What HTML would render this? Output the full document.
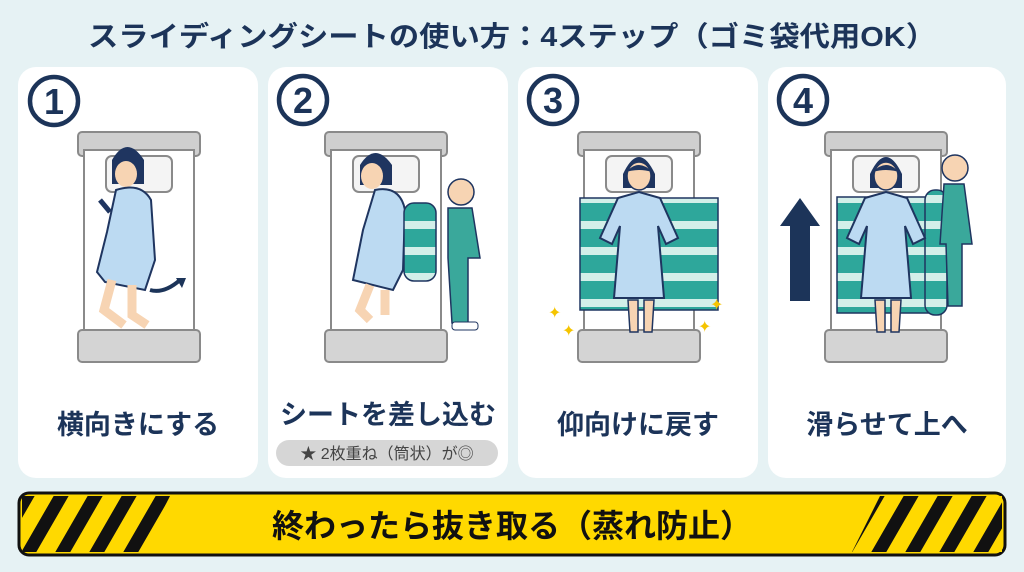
<!DOCTYPE html>
<html><head><meta charset="utf-8"><style>
html,body{margin:0;padding:0;background:#e6f2f4;}
svg{display:block;font-family:"Liberation Sans","Noto Sans CJK JP",sans-serif;}
</style></head><body>
<svg width="1024" height="572" viewBox="0 0 1024 572" xmlns="http://www.w3.org/2000/svg">
<defs>
<pattern id="st" width="40" height="26" patternUnits="userSpaceOnUse">
<rect width="40" height="26" fill="#2ea79b"/><rect y="13" width="40" height="8" fill="#d3efe9"/>
</pattern>
<pattern id="hz" width="34" height="80" patternUnits="userSpaceOnUse" patternTransform="skewX(-30)">
<rect width="34" height="80" fill="#ffd900"/><rect width="15" height="80" fill="#111"/>
</pattern>
<g id="bed">
<rect x="0" y="132" width="122" height="24" rx="4" fill="#cfcfcf" stroke="#8a8a8a" stroke-width="2"/>
<rect x="6" y="150" width="110" height="185" fill="#fff" stroke="#8a8a8a" stroke-width="2"/>
<rect x="28" y="156" width="66" height="36" rx="6" fill="#f4f4f4" stroke="#8a8a8a" stroke-width="2"/>
<rect x="0" y="330" width="122" height="32" rx="4" fill="#d4d4d4" stroke="#8a8a8a" stroke-width="2"/>
</g>
<g id="sup">
<path d="M45 174 q16-34 32 0 v14 h-32z" fill="#1f3560"/>
<ellipse cx="61" cy="176" rx="12" ry="14" fill="#f7d4b3" stroke="#1f3560" stroke-width="1.5"/>
<path d="M48 172 q13-14 26 0 q-13-4-26 0z" fill="#1f3560"/>
<path d="M40 198 l21-6 21 6 l18 40 -12 6 -8-18 6 72 h-50 l6-72 -8 18 -12-6z" fill="#bcdaf2" stroke="#1f3560" stroke-width="2"/>
<path d="M50 300 l2 32 h8 l0-32z M66 300 l0 32 h8 l2-32z" fill="#f7d4b3" stroke="#1f3560" stroke-width="1.5"/>
</g>
</defs>

<text x="512" y="46" text-anchor="middle" font-size="28" font-weight="bold" fill="#1c3459" textLength="848" lengthAdjust="spacingAndGlyphs">スライディングシートの使い方：4ステップ（ゴミ袋代用OK）</text>

<rect x="18" y="67" width="240" height="411" rx="18" fill="#fff"/>
<rect x="268" y="67" width="240" height="411" rx="18" fill="#fff"/>
<rect x="518" y="67" width="240" height="411" rx="18" fill="#fff"/>
<rect x="768" y="67" width="238" height="411" rx="18" fill="#fff"/>

<g fill="none" stroke="#1c3459" stroke-width="4.5">
<circle cx="54" cy="101" r="24"/><circle cx="303" cy="100" r="24"/><circle cx="553" cy="100" r="24"/><circle cx="803" cy="100" r="24"/>
</g>
<g font-size="36" font-weight="bold" fill="#1c3459" text-anchor="middle">
<text x="54" y="114">1</text><text x="303" y="113">2</text><text x="553" y="113">3</text><text x="803" y="113">4</text>
</g>

<!-- card1 -->
<use href="#bed" x="78"/>
<path d="M112 160 q15-26 32 0 v24 h-32z" fill="#1f3560"/>
<ellipse cx="126" cy="174" rx="11" ry="13" fill="#f7d4b3"/>
<path d="M116 190 q25-8 35 10 l4 60 -10 30 -40-8 -8-10 10-40z" fill="#bcdaf2" stroke="#1f3560" stroke-width="2"/>
<path d="M100 200 l10 12" stroke="#1f3560" stroke-width="5"/>
<path d="M112 280 l-8 30 20 15 M132 285 l0 30 15 10" stroke="#f7d4b3" stroke-width="9" fill="none"/>
<path d="M150 290 q14 4 30-10" stroke="#1c3459" stroke-width="4" fill="none"/>
<path d="M176 278 l10 0 -4 10z" fill="#1c3459"/>

<!-- card2 -->
<use href="#bed" x="325"/>
<path d="M360 165 q15-24 32 0 v20 h-32z" fill="#1f3560"/>
<ellipse cx="372" cy="176" rx="11" ry="13" fill="#f7d4b3"/>
<path d="M375 190 q25-5 30 20 l-2 60 -10 20 -40-10 10-50z" fill="#bcdaf2" stroke="#1f3560" stroke-width="2"/>
<path d="M370 285 l-10 25 10 10 M385 290 l0 25" stroke="#f7d4b3" stroke-width="9" fill="none"/>
<rect x="404" y="203" width="32" height="78" rx="10" fill="url(#st)" stroke="#1f3560" stroke-width="1.5"/>
<circle cx="461" cy="192" r="13" fill="#f7d4b3" stroke="#1f3560" stroke-width="1.5"/>
<path d="M448 208 h24 l8 50 h-12 l0 65 h-16 l-4-65z" fill="#3aa89b" stroke="#1f3560" stroke-width="1.5"/>
<rect x="452" y="322" width="26" height="8" rx="3" fill="#fff" stroke="#1f3560"/>

<!-- card3 -->
<use href="#bed" x="578"/>
<rect x="580" y="198" width="138" height="112" fill="url(#st)" stroke="#1f3560" stroke-width="1.5"/>
<use href="#sup" x="578"/>
<g fill="#f5c400" font-size="16"><text x="548" y="318">✦</text><text x="562" y="336">✦</text><text x="710" y="310">✦</text><text x="698" y="332">✦</text></g>

<!-- card4 -->
<use href="#bed" x="825"/>
<rect x="837" y="197" width="100" height="116" fill="url(#st)" stroke="#1f3560" stroke-width="1.5"/>
<rect x="925" y="190" width="22" height="125" rx="10" fill="url(#st)" stroke="#1f3560" stroke-width="1.5"/>
<use href="#sup" x="825"/>
<circle cx="955" cy="168" r="13" fill="#f7d4b3" stroke="#1f3560" stroke-width="1.5"/>
<path d="M944 184 h20 l8 60 h-10 l0 62 h-14 l-2-62 -6 0z" fill="#3aa89b" stroke="#1f3560" stroke-width="1.5"/>
<path d="M800 198 l20 28 h-10 v75 h-20 v-75 h-10z" fill="#1c3459"/>

<!-- labels -->
<g font-size="27" font-weight="bold" fill="#1c3459" text-anchor="middle">
<text x="138" y="434">横向きにする</text>
<text x="388" y="424">シートを差し込む</text>
<text x="638" y="434">仰向けに戻す</text>
<text x="887" y="434">滑らせて上へ</text>
</g>
<rect x="276" y="440" width="222" height="26" rx="13" fill="#d6d6d6"/>
<text x="387" y="459" text-anchor="middle" font-size="16" fill="#444">★ 2枚重ね（筒状）が◎</text>

<!-- banner -->
<rect x="19" y="493" width="986" height="62" rx="10" fill="#ffd900" stroke="#111" stroke-width="3"/>
<path d="M22 496 h148 l-28 56 h-120z" fill="url(#hz)"/>
<path d="M880 496 h122 v56 h-150z" fill="url(#hz)"/>
<text x="512" y="537" text-anchor="middle" font-size="32" font-weight="bold" fill="#111">終わったら抜き取る（蒸れ防止）</text>
</svg>
</body></html>
